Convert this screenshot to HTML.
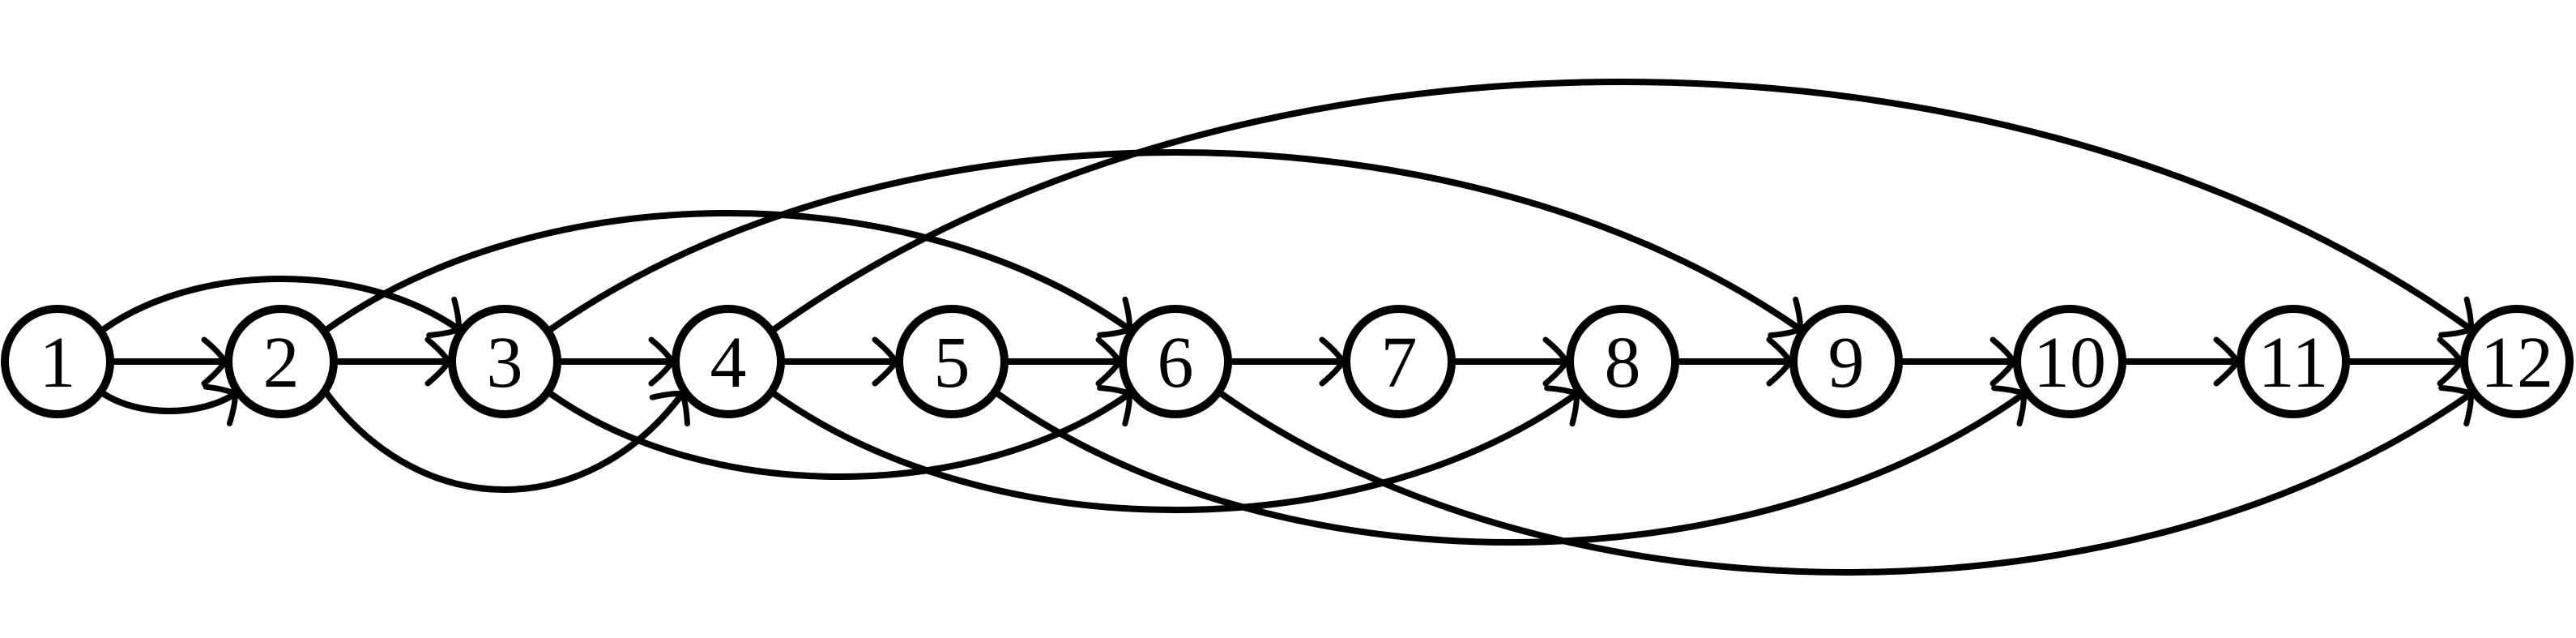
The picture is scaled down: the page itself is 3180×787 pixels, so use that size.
<!DOCTYPE html>
<html><head><meta charset="utf-8"><style>
html,body{margin:0;padding:0;background:#fff;}
svg{display:block;}
text{font-family:"Liberation Serif",serif;}
</style></head><body>
<svg id="g" width="3180" height="787" viewBox="0 0 3180 787" xmlns="http://www.w3.org/2000/svg"></svg>
<script>
const nodeLabels = ["1","2","3","4","5","6","7","8","9","10","11","12"];
const edgeSources = [1,2,3,4,5,6,7,8,9,10,11, 1,1,2,2,3,3,4,4,5,6];
const edgeTargets = [2,3,4,5,6,7,8,9,10,11,12, 3,2,6,4,9,6,12,8,10,12];
// bend depth in px (negative = above, positive = below, 0 = straight)
const edgeBends = [0,0,0,0,0,0,0,0,0,0,0, -102,61,-183,158,-258,142,-345,183,223,260];

const NS="http://www.w3.org/2000/svg";
const svg=document.getElementById('g');
const x0=71, dx=276.0, cy=446, R=65;
function nx(i){return x0+(i-1)*dx;}
function mk(tag,attrs){const e=document.createElementNS(NS,tag);for(const k in attrs)e.setAttribute(k,attrs[k]);return e;}
const edgesG=mk('g',{});


svg.appendChild(edgesG);
function arrow(x,y,ang){
  const a=mk('path',{d:'M -26,-27 Q -8,-12 0,0 Q -8,12 -26,27',fill:'none',stroke:'#000','stroke-width':7,'stroke-linecap':'round',transform:`translate(${x},${y}) rotate(${ang*180/Math.PI})`});
  
  
  edgesG.appendChild(a);
}
for(let i=0;i<edgeSources.length;i++){
  const s=edgeSources[i],t=edgeTargets[i],b=edgeBends[i];
  const xs=nx(s),xt=nx(t);
  let d,ex,ey,ang;
  if(b===0){
    const sx=xs+R+4, tx=xt-R-4;
    d=`M ${sx} ${cy} L ${tx-4} ${cy}`;ex=tx;ey=cy;ang=0;
  } else {
    const th=35*Math.PI/180, sg=b<0?-1:1;
    const sx=xs+(R+4)*Math.cos(th), sy=cy+sg*(R+4)*Math.sin(th);
    const tx=xt-(R+4)*Math.cos(th), ty=sy;
    const peak=cy+b;
    const yc=(peak-0.25*sy)/0.75;
    const w=tx-sx;
    const c1x=sx+0.27*w, c2x=tx-0.27*w;
    d=`M ${sx} ${sy} C ${c1x} ${yc} ${c2x} ${yc} ${tx} ${ty}`;
    ex=tx;ey=ty;ang=Math.atan2(ty-yc,tx-c2x);
  }
  const p=mk('path',{d:d,fill:'none',stroke:'#000','stroke-width':8});
  
  
  edgesG.appendChild(p);
  arrow(ex,ey,ang);
}
for(let i=0;i<nodeLabels.length;i++){
  const g=mk('g',{});
  
  
  const c=mk('circle',{cx:nx(i+1),cy:cy,r:R,fill:'#fff',stroke:'#000','stroke-width':10});
  
  
  const tx=mk('text',{x:nx(i+1),y:cy+31,'text-anchor':'middle','font-size':90,fill:'#000'});
  
  
  tx.textContent=nodeLabels[i];
  g.appendChild(c);g.appendChild(tx);svg.appendChild(g);
}
</script>
</body></html>
